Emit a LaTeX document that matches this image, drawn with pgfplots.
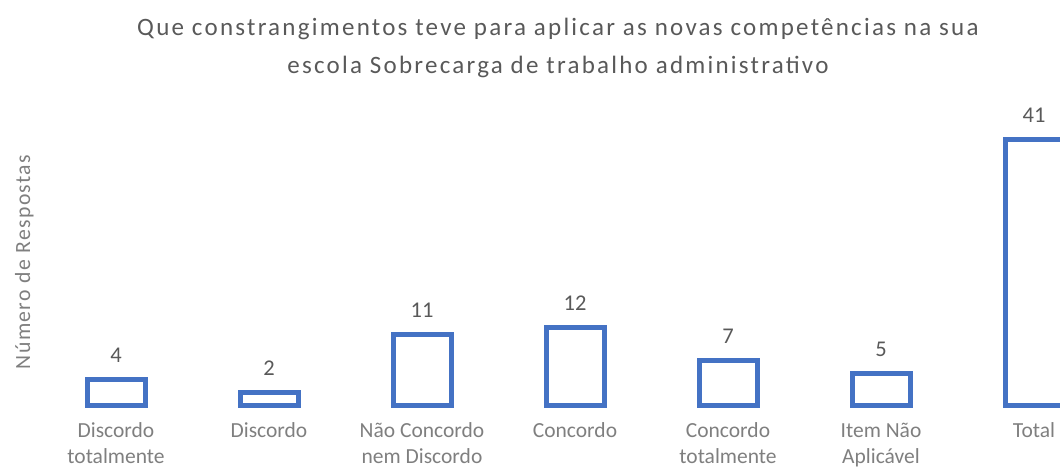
\documentclass[border=0pt]{standalone}
\usepackage{fontspec}
\setmainfont{Carlito}
\usepackage{pgfplots}
\pgfplotsset{compat=1.18}
\definecolor{barblue}{HTML}{4472C4}
\definecolor{titlegray}{HTML}{595959}
\definecolor{labelgray}{HTML}{7F7F7F}
\newfontfamily\titlefont[LetterSpace=9]{Carlito}
\newfontfamily\ylabfont[LetterSpace=6.5]{Carlito}
\begin{document}
\begin{tikzpicture}
\begin{axis}[
  at={(39.5pt,62.5pt)}, anchor=south west,
  scale only axis, width=1020.5pt, height=305.5pt,
  xmin=-0.5, xmax=6.17, ymin=0, ymax=47.07,
  clip=false,
  axis line style={draw=none},
  major tick length=0pt,
  ytick=\empty,
  xtick={0,1,2,3,4,5,6},
  xticklabels={{Discordo\\totalmente},{Discordo\\\strut},{Não Concordo\\nem Discordo},{Concordo\\\strut},{Concordo\\totalmente},{Item Não\\Aplicável},{Total\\\strut}},
  xticklabel style={font=\fontsize{21.5}{25.5}\selectfont, text=labelgray, align=center, anchor=base, yshift=-58pt},
  ybar, bar width=58pt,
  nodes near coords,
  /pgf/number format/assume math mode=true,
  every node near coord/.append style={font=\fontsize{22.5}{27}\selectfont, text=titlegray, anchor=base, yshift=17pt},
  title={Que constrangimentos teve para aplicar as novas competências na sua\\[2pt]escola Sobrecarga de trabalho administrativo},
  title style={at={(axis description cs:0.508,1.0687)}, anchor=base, align=center, font=\titlefont\fontsize{25}{36}\selectfont, text=titlegray},
  ylabel={Número de Respostas},
  every axis y label/.style={at={(axis description cs:-0.0093,0.4697)}, rotate=90, anchor=base, font=\ylabfont\fontsize{21.7}{26}\selectfont, text=labelgray},
]
\addplot[fill=white, draw=barblue, line width=5pt] coordinates {(0,4) (1,2) (2,11) (3,12) (4,7) (5,5) (6,41)};
\end{axis}
\pgfresetboundingbox
\path[use as bounding box] (0pt,0pt) rectangle (1060pt,468pt);
\end{tikzpicture}
\end{document}
